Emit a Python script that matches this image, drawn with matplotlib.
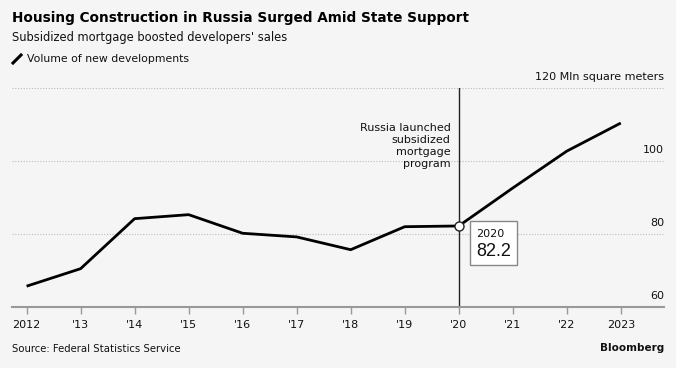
import matplotlib.pyplot as plt
from matplotlib.patches import Rectangle

years = [2012, 2013, 2014, 2015, 2016, 2017, 2018, 2019, 2020, 2021, 2022, 2023]
volume = [65.7, 70.5, 84.2, 85.3, 80.2, 79.2, 75.7, 82.0, 82.2, 92.6, 102.7, 110.4]
tick_labels = ["2012", "'13", "'14", "'15", "'16", "'17", "'18", "'19", "'20", "'21", "'22", "2023"]
y_ticks = [60, 80, 100, 120]

BG = "#f5f5f5"
plt.rcParams["font.family"] = ["DejaVu Sans"]

fig = plt.figure(figsize=(6.76, 3.68), dpi=100, facecolor=BG)
ax = fig.add_axes([12 / 676, 1 - 307 / 368, 652 / 676, 219 / 368])
ax.set_facecolor(BG)
ax.set_xlim(2011.73, 2023.8)
ax.set_ylim(60, 120)

for v in y_ticks[1:]:
    ax.axhline(v, color="#bbbbbb", lw=0.8, ls=(0, (1, 1.5)), zorder=1)
for v in y_ticks[:-1]:
    ax.text(1.0, v + 1.6, str(v), transform=ax.get_yaxis_transform(),
            ha="right", va="bottom", fontsize=8, color="#111111")
ax.text(1.0, 121.6, "120 Mln square meters", transform=ax.get_yaxis_transform(),
        ha="right", va="bottom", fontsize=8, color="#111111", clip_on=False)

for s in ["top", "right", "left"]:
    ax.spines[s].set_visible(False)
ax.spines["bottom"].set_color("#999999")
ax.spines["bottom"].set_linewidth(1.5)
ax.set_yticks([])
ax.set_xticks(years)
ax.set_xticklabels(tick_labels, fontsize=8, color="#111111")
ax.tick_params(axis="x", length=5, width=1, color="#999999", pad=4)

# 2020: subsidized mortgage programme starts
ax.axvline(2020, color="#222222", lw=1, zorder=2)
ax.plot(years, volume, color="black", lw=2, zorder=3, solid_capstyle="butt")
ax.plot([2020], [volume[8]], "o", ms=6.5, mfc="white", mec="#222222", mew=1, zorder=4)

ax.text(2019.85, 110.4, "Russia launched\nsubsidized\nmortgage\nprogram", ha="right", va="top",
        fontsize=8, color="#111111", linespacing=1.25)

fig.patches.append(Rectangle((470 / 676, 1 - 265 / 368), 47 / 676, 44 / 368,
                             transform=fig.transFigure, facecolor="white", edgecolor="#888888",
                             lw=1, zorder=5))
fig.text(476 / 676, 1 - 234 / 368, "2020", fontsize=8, color="#111111", va="center", zorder=6)
fig.text(476 / 676, 1 - 252 / 368, f"{volume[8]:.1f}", fontsize=13, color="#111111", va="center",
         family="Liberation Sans", zorder=6)

fig.text(12 / 676, 1 - 18 / 368, "Housing Construction in Russia Surged Amid State Support",
         fontsize=9.8, fontweight="bold", va="center", color="black")
fig.text(12 / 676, 1 - 37 / 368, "Subsidized mortgage boosted developers' sales",
         fontsize=8.3, va="center", color="#111111")
fig.lines.append(plt.Line2D([13 / 676, 21 / 676], [1 - 63 / 368, 1 - 55 / 368],
                            transform=fig.transFigure, color="black", lw=2.2))
fig.text(27 / 676, 1 - 59 / 368, "Volume of new developments", fontsize=7.8, va="center",
         color="#111111")

fig.text(12 / 676, 1 - 349 / 368, "Source: Federal Statistics Service", fontsize=7.3, va="center",
         color="#111111")
fig.text(664 / 676, 1 - 348 / 368, "Bloomberg", fontsize=7.5, va="center", ha="right",
         fontweight="bold", color="#111111")

fig.savefig("out.png", dpi=100, facecolor=BG)
